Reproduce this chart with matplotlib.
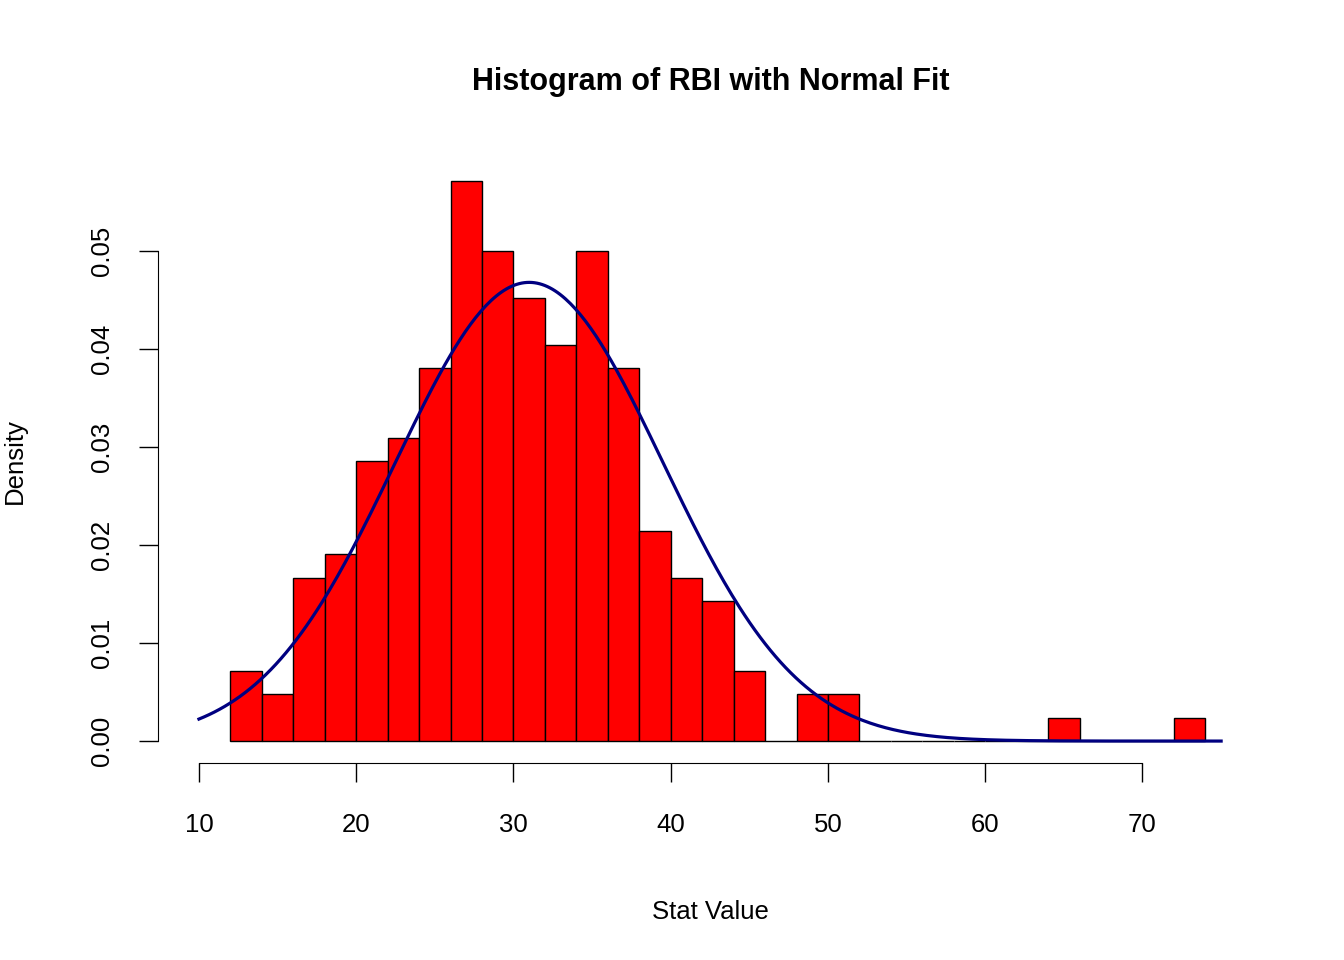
import numpy as np
import matplotlib.pyplot as plt

plt.rcParams['font.family'] = ['Liberation Sans', 'DejaVu Sans']

# histogram of RBI, bin width 2, n = 210
bin_edges = np.arange(12, 76, 2)
counts = [3, 2, 7, 8, 12, 13, 16, 24, 21, 19, 17, 21, 16, 9, 7, 6, 3, 0, 2, 2,
          0, 0, 0, 0, 0, 0, 1, 0, 0, 0, 1]
n_obs = 210
fit_mean = 31.0
fit_sd = 8.52

density = np.array(counts) / (n_obs * 2.0)

fig = plt.figure(figsize=(13.44, 9.6), dpi=100)
ax = fig.add_axes([0.1176, 0.2052, 0.8214, 0.630])

ax.bar(bin_edges[:-1], density, width=2, align='edge', color='#FF0000',
       edgecolor='black', linewidth=1.0)

xs = np.linspace(10, 75, 400)
ys = np.exp(-0.5 * ((xs - fit_mean) / fit_sd) ** 2) / (fit_sd * np.sqrt(2 * np.pi))
ax.plot(xs, ys, color='#000080', linewidth=2.3)

ax.set_xlim(7.4, 77.6)
ax.set_ylim(-0.00224, 0.0595)
for s in ['top', 'right']:
    ax.spines[s].set_visible(False)
ax.spines['left'].set_bounds(0, 0.05)
ax.spines['bottom'].set_bounds(10, 70)
ax.set_xticks(range(10, 71, 10))
ax.set_yticks([0, 0.01, 0.02, 0.03, 0.04, 0.05])
ax.set_yticklabels(['0.00', '0.01', '0.02', '0.03', '0.04', '0.05'], rotation=90, va='center')
ax.tick_params(labelsize=18.5, length=14, width=1)
ax.tick_params(axis='x', pad=22)
ax.tick_params(axis='y', pad=18)

ax.set_xlabel('Stat Value', fontsize=18.5, labelpad=45)
ax.set_ylabel('Density', fontsize=18.5, labelpad=45)
fig.suptitle('Histogram of RBI with Normal Fit', fontsize=22, fontweight='bold',
             x=0.5287, y=0.93)

plt.savefig('out.png', dpi=100)
